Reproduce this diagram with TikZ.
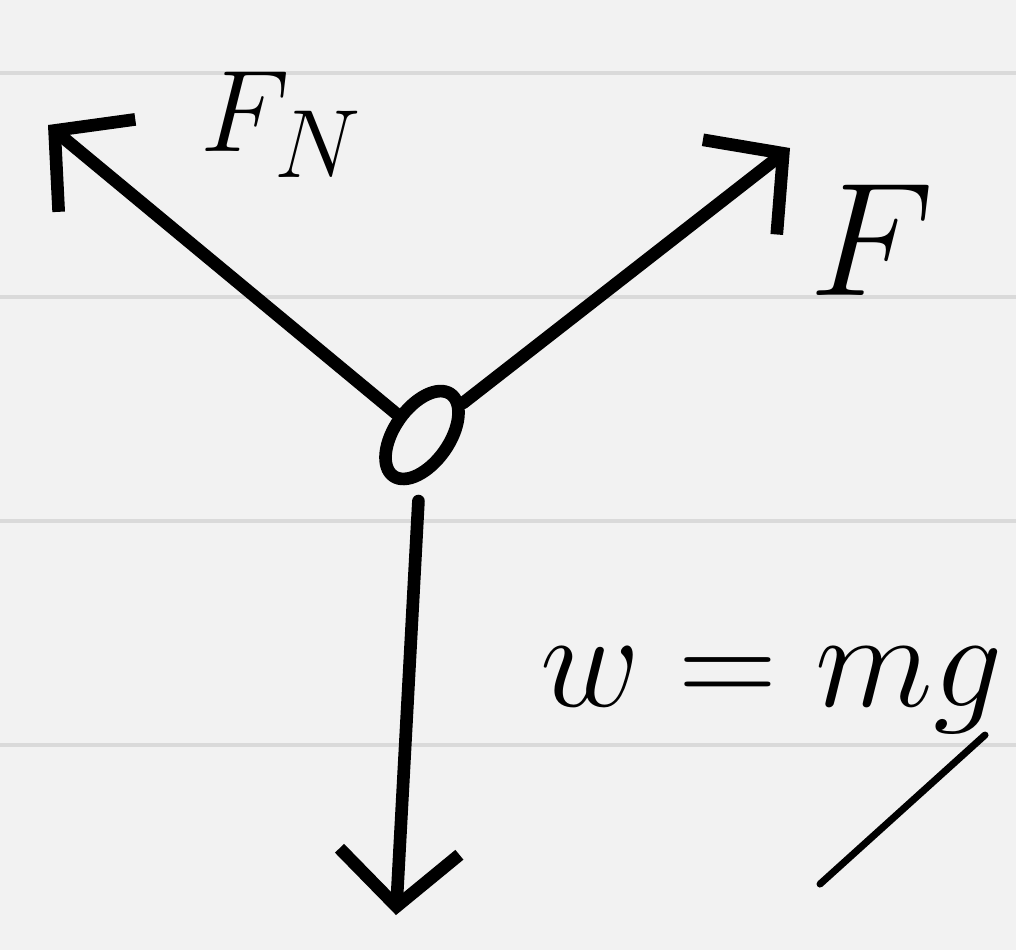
\documentclass[tikz,border=0pt]{standalone}
\usepackage{amsmath}
\usepackage{tikz}
\usetikzlibrary{arrows.meta, positioning, shapes.geometric}

\definecolor{paper}{HTML}{F2F2F2}
\definecolor{rule}{HTML}{DADADA}

\begin{document}
\begin{tikzpicture}[
    x=0.01cm, y=-0.01cm,
    ink/.style={line width=3.6pt, line cap=round, line join=round},
    force/.style={ink, -{Straight Barb[length=5.5mm, width=12mm]}},
    body/.style={ink, draw, ellipse, minimum width=1.0cm, minimum height=0.55cm, inner sep=0pt, rotate=55},
    lbl/.style={inner sep=0pt, font=\Huge}
]
% paper with ruled lines
\useasboundingbox (0,0) rectangle (1016,950);
\fill[paper] (0,0) rectangle (1016,950);
\foreach \y in {73,297,521,745}
  \draw[rule, line width=1pt] (0,\y) -- (1016,\y);

\node[body] (obj) at (422,435) {};
\coordinate (tipN) at (48,125);
\coordinate (tipF) at (790,148);
\coordinate (tipW) at (396,915);

\node[lbl] (fn) at (282,125) {\scalebox{1.33}{$F_N$}};
\node[lbl] (f) at (872,240) {\scalebox{1.85}{$F$}};
\node[lbl, anchor=west] (wmg) at (540,690) {\scalebox{1.57}{$w=mg$}};
\coordinate (gtop) at (985,735);
\coordinate (gtail) at (820,884);

\draw[force] (obj) -- (tipN);
\draw[force] (obj) -- (tipF);
\draw[force, shorten <=2mm] (obj) -- (tipW);
\draw[ink, line width=2pt] (gtop) -- (gtail);
\end{tikzpicture}
\end{document}
